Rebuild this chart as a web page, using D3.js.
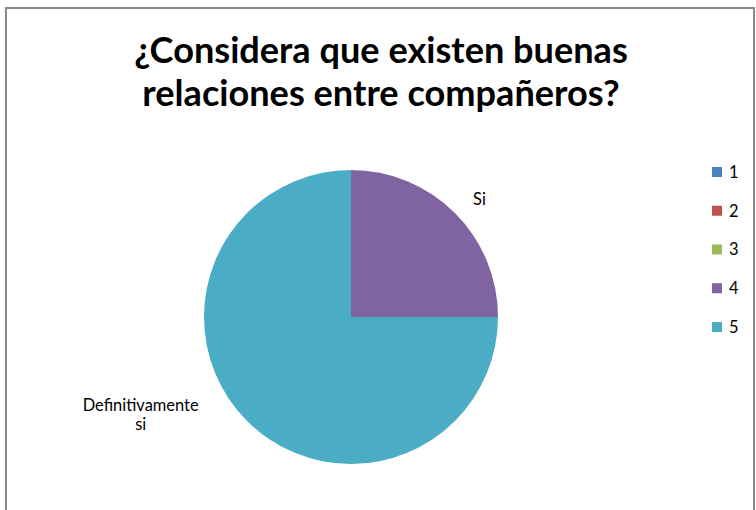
<!DOCTYPE html>
<html>
<head>
<meta charset="utf-8">
<script src="https://cdn.jsdelivr.net/npm/d3@7"></script>
<style>
  html, body { margin: 0; padding: 0; background: #fff; }
  svg { display: block; }
</style>
</head>
<body>
<svg id="chart" width="756" height="510"></svg>
<script>
// Survey answers: share of responses per option (1..5)
const categories = ["1", "2", "3", "4", "5"];
const values = [0, 0, 0, 25, 75];
const sliceLabels = ["", "", "", "Si", "Definitivamente si"];
const titleLines = ["¿Considera que existen buenas", "relaciones entre compañeros?"];
const colors = ["#4F81BD", "#C0504D", "#9BBB59", "#8064A2", "#4BACC6"];

const W = 756, H = 510;
const svg = d3.select("#chart");
const font = "Lato, 'Open Sans', sans-serif";

// Heading of the document above the chart; only its descender shows
svg.append("text")
  .attr("x", 348).attr("y", -4)
  .attr("text-anchor", "middle")
  .attr("font-family", font)
  .attr("font-weight", 700)
  .attr("font-size", 24)
  .attr("fill", "#2F5C8F")
  .text("g");

// Chart area frame
svg.append("rect")
  .attr("x", 6).attr("y", 8)
  .attr("width", 748).attr("height", 520)
  .attr("fill", "#fff")
  .attr("stroke", "#8a8a8a")
  .attr("stroke-width", 2);

// Scale a text element's font so its rendered width matches a target width
function fitWidth(sel, target) {
  const base = +sel.attr("font-size");
  const w = sel.node().getComputedTextLength();
  const size = base * target / w;
  sel.attr("font-size", size);
  return size;
}

// Title
const titleG = svg.append("g")
  .attr("font-family", font)
  .attr("font-weight", 700)
  .attr("fill", "#000")
  .attr("text-anchor", "middle");
const t1 = titleG.append("text")
  .attr("x", 381).attr("y", 63)
  .attr("font-size", 32)
  .text(titleLines[0]);
const titleSize = fitWidth(t1, 494);
titleG.append("text")
  .attr("x", 381).attr("y", 106)
  .attr("font-size", titleSize)
  .text(titleLines[1]);

// Pie
const cx = 351, cy = 317, radius = 147;
const pie = d3.pie().sort(null).value(d => d.value);
const data = categories.map((c, i) => ({ cat: c, value: values[i], label: sliceLabels[i], color: colors[i] }));
const arcs = pie(data);
const arc = d3.arc().innerRadius(0).outerRadius(radius);

const pieG = svg.append("g").attr("transform", `translate(${cx},${cy})`);
pieG.selectAll("path")
  .data(arcs.filter(a => a.data.value > 0))
  .join("path")
  .attr("d", arc)
  .attr("fill", d => d.data.color);

// Size of the small text, taken from the longest data label word
const probe = svg.append("text")
  .attr("font-family", font)
  .attr("font-size", 16)
  .text("Definitivamente");
const smallSize = fitWidth(probe, 116);
probe.remove();

// Data labels placed outside the slices (best fit)
const labelPlacement = {
  "4": { r: 174, shift: 0.045 },
  "5": { r: 232, shift: 0.35 }
};
const labelG = pieG.append("g")
  .attr("font-family", font)
  .attr("font-size", smallSize)
  .attr("fill", "#000")
  .attr("text-anchor", "middle");
arcs.filter(a => a.data.value > 0 && a.data.label).forEach(a => {
  const p = labelPlacement[a.data.cat];
  const ang = (a.startAngle + a.endAngle) / 2 + p.shift;
  const x = Math.sin(ang) * p.r;
  const y = -Math.cos(ang) * p.r;
  const words = a.data.label === "Definitivamente si" ? ["Definitivamente", "si"] : [a.data.label];
  const lh = smallSize * 1.12;
  const t = labelG.append("text")
    .attr("x", x)
    .attr("y", y - (words.length - 1) * lh / 2)
    .attr("dy", "0.35em");
  words.forEach((w, i) => {
    t.append("tspan").attr("x", x).attr("dy", i === 0 ? "0.35em" : lh).text(w);
  });
});

// Legend
const legendY = d3.scalePoint().domain(categories).range([172, 327]);
const legend = svg.append("g")
  .attr("font-family", font)
  .attr("font-size", smallSize);
const items = legend.selectAll("g")
  .data(data)
  .join("g")
  .attr("transform", d => `translate(712,${legendY(d.cat)})`);
items.append("rect")
  .attr("x", 0).attr("y", -5)
  .attr("width", 10).attr("height", 10)
  .attr("fill", d => d.color);
items.append("text")
  .attr("x", 17).attr("y", 0)
  .attr("dy", "0.35em")
  .attr("fill", "#000")
  .text(d => d.cat);
</script>
</body>
</html>
